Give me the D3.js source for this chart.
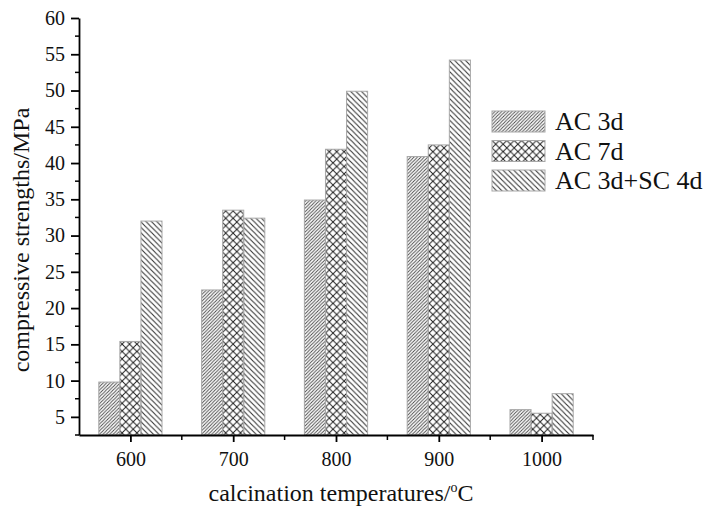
<!DOCTYPE html>
<html>
<head>
<meta charset="utf-8">
<script src="https://cdn.jsdelivr.net/npm/d3@7"></script>
<style>
  body { margin: 0; background: #fff; }
  text { font-family: "Liberation Serif", "Times New Roman", serif; fill: #111; }
</style>
</head>
<body>
<div id="chart"></div>
<script>
// data
var temperatures = [600, 700, 800, 900, 1000];
var seriesNames = ["AC 3d", "AC 7d", "AC 3d+SC 4d"];
var ac3d = [9.8, 22.5, 34.9, 40.9, 6.0];
var ac7d = [15.4, 33.5, 41.9, 42.5, 5.5];
var ac3dSc4d = [32.0, 32.4, 49.9, 54.2, 8.2];
var yTicks = [5, 10, 15, 20, 25, 30, 35, 40, 45, 50, 55, 60];
var yMinorTicks = [2.5, 7.5, 12.5, 17.5, 22.5, 27.5, 32.5, 37.5, 42.5, 47.5, 52.5, 57.5];
var xMinorTicks = [650, 750, 850, 950, 1050];

var svgWidth = 710;
var svgHeight = 507;

var svg = d3.select("#chart")
  .append("svg")
  .attr("width", svgWidth)
  .attr("height", svgHeight);

// hatch patterns
var defs = svg.append("defs");

function hatch(id, size, d, sw, col) {
  defs.append("pattern")
    .attr("id", id)
    .attr("patternUnits", "userSpaceOnUse")
    .attr("width", size)
    .attr("height", size)
    .append("path")
    .attr("d", d)
    .attr("stroke", col)
    .attr("stroke-width", sw)
    .attr("fill", "none");
}

var s1 = 3.4;
hatch("p0", s1, `M0,${s1} L${s1},0 M${-s1/2},${s1/2} L${s1/2},${-s1/2} M${s1/2},${s1*1.5} L${s1*1.5},${s1/2}`, 0.9, "#444");
var s2 = 7.4;
hatch("p1", s2, `M0,0 L${s2},${s2} M0,${s2} L${s2},0`, 1.0, "#222");
var s3 = 5.4;
hatch("p2", s3, `M0,0 L${s3},${s3} M${-s3/2},${s3/2} L${s3/2},${s3*1.5} M${s3/2},${-s3/2} L${s3*1.5},${s3/2}`, 1.1, "#333");

var patterns = ["url(#p0)", "url(#p1)", "url(#p2)"];
var allSeries = [ac3d, ac7d, ac3dSc4d];

// scales
var xScale = d3.scaleLinear()
  .domain([550, 1050])
  .range([79, 593]);

var yScale = d3.scaleLinear()
  .domain([2.5, 60])
  .range([435, 18]);

var barUnits = 20.5;
var barW = xScale(550 + barUnits) - xScale(550);

// bars
allSeries.forEach(function(values, i) {
  svg.append("g")
    .selectAll("rect")
    .data(values)
    .enter()
    .append("rect")
    .attr("x", (d, j) => xScale(temperatures[j]) + (i - 1.5) * barW)
    .attr("y", d => yScale(d))
    .attr("width", barW)
    .attr("height", d => yScale(2.5) - yScale(d))
    .attr("fill", patterns[i])
    .attr("stroke", "#a8a8a8")
    .attr("stroke-width", 1);
});

// y axis
var leftAxis = d3.axisLeft(yScale)
  .tickValues(yTicks)
  .tickSize(8)
  .tickPadding(6)
  .tickSizeOuter(0);

var yAxis = svg.append("g")
  .attr("transform", `translate(${xScale(550)}, 0)`)
  .call(leftAxis);

yAxis.append("g")
  .selectAll("line")
  .data(yMinorTicks)
  .enter()
  .append("line")
  .attr("x1", -4)
  .attr("x2", 0)
  .attr("y1", d => yScale(d))
  .attr("y2", d => yScale(d))
  .attr("stroke", "#000")
  .attr("stroke-width", 1.5);

// x axis
var bottomAxis = d3.axisBottom(xScale)
  .tickValues(temperatures)
  .tickFormat(d3.format("d"))
  .tickSize(7)
  .tickPadding(10)
  .tickSizeOuter(0);

var xAxis = svg.append("g")
  .attr("transform", `translate(0, ${yScale(2.5)})`)
  .call(bottomAxis);

xAxis.append("g")
  .selectAll("line")
  .data(xMinorTicks)
  .enter()
  .append("line")
  .attr("x1", d => xScale(d))
  .attr("x2", d => xScale(d))
  .attr("y1", 0)
  .attr("y2", 5)
  .attr("stroke", "#000")
  .attr("stroke-width", 1.5);

svg.selectAll(".domain, .tick line")
  .attr("stroke", "#000")
  .attr("stroke-width", 1.8);

svg.selectAll(".tick text")
  .style("font-family", "Liberation Serif, serif")
  .style("font-size", "20px")
  .attr("fill", "#111");

// axis titles
var xTitle = svg.append("text")
  .attr("x", 341)
  .attr("y", 501)
  .attr("text-anchor", "middle")
  .style("font-size", "24px")
  .text("calcination temperatures/");
xTitle.append("tspan")
  .attr("dy", -9)
  .style("font-size", "14px")
  .text("o");
xTitle.append("tspan")
  .attr("dy", 9)
  .text("C");

svg.append("text")
  .attr("transform", "translate(29, 240) rotate(-90)")
  .attr("text-anchor", "middle")
  .style("font-size", "24px")
  .text("compressive strengths/MPa");

// legend
var legend = svg.append("g")
  .attr("transform", "translate(492, 111)");

var legendItems = legend.selectAll("g")
  .data(seriesNames)
  .enter()
  .append("g")
  .attr("transform", (d, i) => `translate(0, ${i * 29.5})`);

legendItems.append("rect")
  .attr("width", 53)
  .attr("height", 21)
  .attr("fill", (d, i) => patterns[i])
  .attr("stroke", "#a8a8a8")
  .attr("stroke-width", 1);

legendItems.append("text")
  .attr("x", 63)
  .attr("y", 19)
  .style("font-size", "26px")
  .text(d => d);
</script>
</body>
</html>
